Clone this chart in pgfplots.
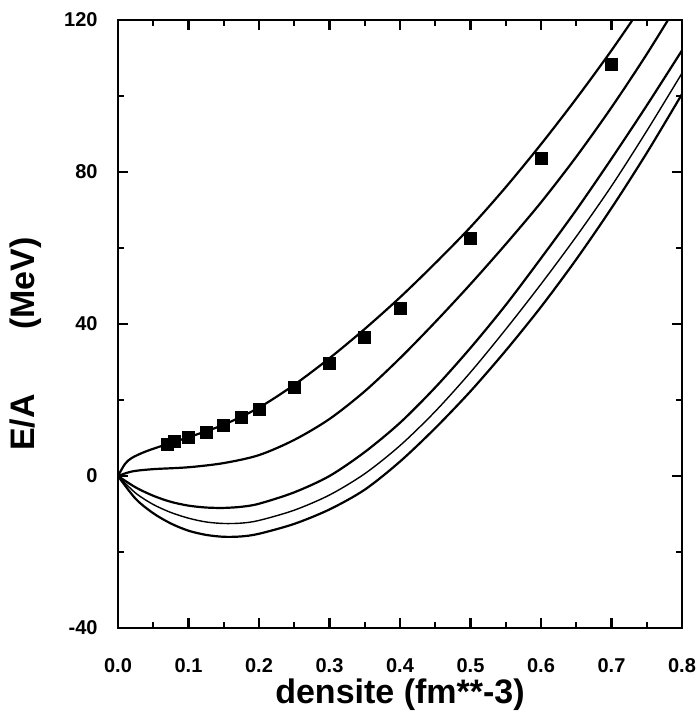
\documentclass[border=0pt]{standalone}
\usepackage{fontspec}
\setmainfont{Liberation Sans}
\usepackage{pgfplots}
\pgfplotsset{compat=1.18}

\begin{document}
\begin{tikzpicture}
\begin{axis}[
    width=282pt, height=304pt,
    scale only axis,
    xmin=0, xmax=0.8,
    ymin=-40, ymax=120,
    xtick={0,0.1,...,0.8},
    ytick={-40,0,40,80,120},
    minor xtick={0.05,0.15,...,0.75},
    minor ytick={-20,20,60,100},
    tick align=inside,
    major tick length=5pt,
    minor tick length=3pt,
    axis line style={line width=1.4pt},
    every tick/.style={line width=1.2pt, black},
    /pgf/number format/assume math mode=true,
    ticklabel style={font=\bfseries\fontsize{10}{12}\selectfont},
    xticklabel style={yshift=-11.8pt, /pgf/number format/fixed, /pgf/number format/fixed zerofill, /pgf/number format/precision=1},
    yticklabel style={xshift=-6.7pt},
    xlabel={densite (fm**-3)},
    ylabel={E/A\hspace{1.9em}(MeV)},
    xlabel style={yshift=4pt, font=\bfseries\fontsize{17}{20}\selectfont},
    every axis y label/.style={at={([xshift=-38pt]rel axis cs:0,0.467)}, rotate=90, anchor=south, inner sep=0pt,
        font=\bfseries\fontsize{17}{20}\selectfont},
    clip=true,
]
\coordinate (ll) at (rel axis cs:0,0);
\coordinate (ur) at (rel axis cs:1,1);

% upper curve
\addplot[black, line width=1.1pt, smooth] coordinates {
    (0,0) (0.01,3.2) (0.02,4.8) (0.04,6.5) (0.07,8.4) (0.1,10.2) (0.15,13.5)
    (0.2,18) (0.25,24) (0.3,31) (0.35,38.7) (0.4,47) (0.45,56)
    (0.5,65.5) (0.55,76) (0.6,87.3) (0.65,99.3) (0.7,112) (0.75,125.5)
};

\addplot[black, line width=1.1pt, smooth] coordinates {
    (0,0) (0.02,1.2) (0.05,1.8) (0.1,2.3) (0.15,3.4) (0.2,5.5)
    (0.25,9.5) (0.3,15) (0.35,22.3) (0.4,31) (0.45,40.5) (0.5,50.5)
    (0.55,61) (0.6,72) (0.65,84) (0.7,97) (0.75,111) (0.8,126)
};

\addplot[black, line width=1.1pt, smooth] coordinates {
    (0,0) (0.025,-3) (0.05,-5.2) (0.075,-6.8) (0.1,-7.8) (0.125,-8.3)
    (0.15,-8.4) (0.175,-8.1) (0.2,-7.3) (0.25,-4.3) (0.3,0) (0.35,6.3)
    (0.4,14) (0.45,23.3) (0.5,33.7) (0.55,45) (0.6,57.3) (0.65,70)
    (0.7,83.5) (0.75,97.5) (0.8,112)
};

\addplot[black, line width=0.7pt, smooth] coordinates {
    (0,0) (0.025,-4.5) (0.05,-7.5) (0.075,-9.6) (0.1,-11.1) (0.125,-12.1)
    (0.15,-12.5) (0.175,-12.4) (0.2,-11.7) (0.25,-9) (0.3,-5) (0.35,0.6)
    (0.4,8) (0.45,17) (0.5,27.3) (0.55,38.6) (0.6,50.5) (0.65,63)
    (0.7,76.3) (0.75,90.8) (0.8,106)
};

\addplot[black, line width=1.1pt, smooth] coordinates {
    (0,0) (0.025,-6) (0.05,-9.8) (0.075,-12.5) (0.1,-14.4) (0.125,-15.5)
    (0.15,-16) (0.175,-15.9) (0.2,-15.2) (0.25,-12.6) (0.3,-8.8) (0.35,-3.6)
    (0.4,3.8) (0.45,12.6) (0.5,22.3) (0.55,33) (0.6,44.5) (0.65,57)
    (0.7,70.5) (0.75,85) (0.8,100.5)
};

% data points
\addplot[only marks, mark=square*, mark size=3pt, black] coordinates {
    (0.07,8.4) (0.08,9.2) (0.1,10.1) (0.125,11.5) (0.15,13.3)
    (0.175,15.5) (0.2,17.6) (0.25,23.4) (0.3,29.6) (0.35,36.6)
    (0.4,44.2) (0.5,62.4) (0.6,83.7) (0.7,108.2)
};

\end{axis}
\pgfresetboundingbox
\useasboundingbox ([shift={(-59pt,-46pt)}]ll) rectangle ([shift={(7pt,10pt)}]ur);
\end{tikzpicture}
\end{document}
